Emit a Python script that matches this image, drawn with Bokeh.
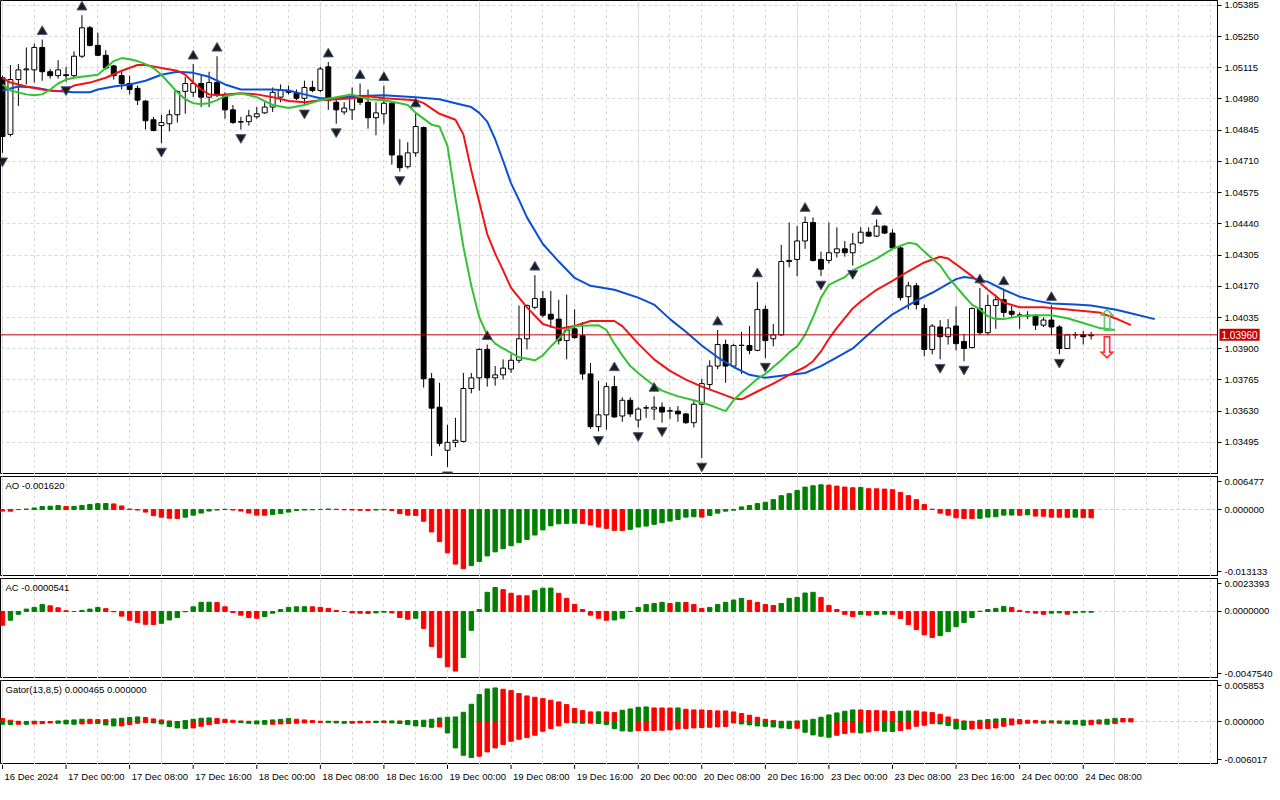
from bokeh.plotting import figure
from bokeh.layouts import column
from bokeh.models import FixedTicker, NumeralTickFormatter, Span, Label, Range1d, Grid
from bokeh.embed import file_html
from bokeh.resources import INLINE
from bokeh.core.properties import value

# ---------------- data (EURUSD H1, 16 Dec 16:00 .. 24 Dec 09:00) ----------------
opens = [
1.05072, 1.04827, 1.05064, 1.05106, 1.05106, 1.05203, 1.05098, 1.05081, 1.05085, 1.05081,
1.05165, 1.05288, 1.05212, 1.05169, 1.05123, 1.05081, 1.05047, 1.05026, 1.04971, 1.04890,
1.04865, 1.04873, 1.04912, 1.05013, 1.05009, 1.05047, 1.04988, 1.05051, 1.04996, 1.04933,
1.04882, 1.04882, 1.04903, 1.04920, 1.04945, 1.04988, 1.05017, 1.05005, 1.04983, 1.05030,
1.05017, 1.05119, 1.04966, 1.04924, 1.04933, 1.04988, 1.04966, 1.04899, 1.04916, 1.04962,
1.04734, 1.04687, 1.04747, 1.04857, 1.03770, 1.03647, 1.03461, 1.03495, 1.03499, 1.03728,
1.03774, 1.03897, 1.03774, 1.03787, 1.03812, 1.03850, 1.03943, 1.04079, 1.04117, 1.04049,
1.04028, 1.03935, 1.03986, 1.03956, 1.03791, 1.03563, 1.03614, 1.03736, 1.03609, 1.03677,
1.03592, 1.03643, 1.03639, 1.03647, 1.03630, 1.03630, 1.03618, 1.03580, 1.03660, 1.03745,
1.03825, 1.03918, 1.03825, 1.03914, 1.03914, 1.03893, 1.04070, 1.03943, 1.03960, 1.04277,
1.04286, 1.04366, 1.04446, 1.04286, 1.04282, 1.04315, 1.04332, 1.04315, 1.04358, 1.04404,
1.04387, 1.04430, 1.04400, 1.04336, 1.04125, 1.04172, 1.04074, 1.03897, 1.03994, 1.03952,
1.03998, 1.03931, 1.03905, 1.04074, 1.03969, 1.04087, 1.04112, 1.04062, 1.04045, 1.04045,
1.04041, 1.04002, 1.04024, 1.03994, 1.03901, 1.03960, 1.03960, 1.03956]
highs = [
1.05081, 1.05127, 1.05131, 1.05203, 1.05220, 1.05237, 1.05110, 1.05148, 1.05119, 1.05186,
1.05343, 1.05296, 1.05267, 1.05191, 1.05127, 1.05102, 1.05081, 1.05038, 1.04975, 1.04903,
1.04912, 1.04933, 1.05017, 1.05076, 1.05131, 1.05085, 1.05098, 1.05165, 1.05009, 1.04954,
1.04903, 1.04933, 1.04945, 1.04966, 1.05030, 1.05043, 1.05038, 1.05021, 1.05059, 1.05059,
1.05119, 1.05140, 1.04979, 1.04966, 1.05030, 1.05047, 1.05021, 1.04966, 1.05038, 1.04966,
1.04806, 1.04793, 1.04924, 1.04861, 1.03795, 1.03753, 1.03571, 1.03601, 1.03795, 1.03795,
1.03901, 1.03918, 1.03825, 1.03854, 1.03876, 1.04087, 1.04091, 1.04218, 1.04150, 1.04150,
1.04112, 1.04134, 1.04070, 1.04015, 1.03838, 1.03762, 1.03753, 1.03783, 1.03690, 1.03690,
1.03647, 1.03656, 1.03694, 1.03668, 1.03647, 1.03652, 1.03622, 1.03673, 1.03770, 1.03850,
1.03981, 1.03939, 1.03922, 1.03973, 1.03998, 1.04189, 1.04087, 1.04007, 1.04349, 1.04446,
1.04430, 1.04472, 1.04468, 1.04320, 1.04446, 1.04425, 1.04366, 1.04400, 1.04425, 1.04425,
1.04459, 1.04434, 1.04417, 1.04345, 1.04189, 1.04184, 1.04091, 1.04007, 1.04024, 1.04028,
1.04083, 1.03964, 1.04079, 1.04163, 1.04134, 1.04134, 1.04155, 1.04087, 1.04057, 1.04062,
1.04049, 1.04036, 1.04087, 1.04002, 1.03964, 1.03973, 1.03977, 1.03973]
lows = [
1.04747, 1.04818, 1.04950, 1.05043, 1.05051, 1.05059, 1.05068, 1.05068, 1.05055, 1.05072,
1.05157, 1.05207, 1.05165, 1.05106, 1.05064, 1.05021, 1.05000, 1.04954, 1.04848, 1.04840,
1.04789, 1.04840, 1.04878, 1.04916, 1.04988, 1.04945, 1.04945, 1.04988, 1.04895, 1.04873,
1.04848, 1.04865, 1.04895, 1.04916, 1.04924, 1.04966, 1.05000, 1.04975, 1.04954, 1.05009,
1.05009, 1.04933, 1.04873, 1.04912, 1.04890, 1.04954, 1.04852, 1.04823, 1.04873, 1.04696,
1.04666, 1.04679, 1.04730, 1.03732, 1.03436, 1.03478, 1.03389, 1.03474, 1.03495, 1.03707,
1.03719, 1.03736, 1.03740, 1.03766, 1.03795, 1.03838, 1.03897, 1.04070, 1.04036, 1.03990,
1.03918, 1.03854, 1.03943, 1.03766, 1.03554, 1.03542, 1.03550, 1.03601, 1.03584, 1.03605,
1.03559, 1.03601, 1.03592, 1.03580, 1.03597, 1.03584, 1.03575, 1.03559, 1.03427, 1.03723,
1.03812, 1.03753, 1.03816, 1.03791, 1.03876, 1.03889, 1.03859, 1.03910, 1.03956, 1.04252,
1.04214, 1.04332, 1.04277, 1.04214, 1.04269, 1.04294, 1.04298, 1.04260, 1.04353, 1.04383,
1.04383, 1.04396, 1.04332, 1.04108, 1.04070, 1.04070, 1.03867, 1.03876, 1.03854, 1.03918,
1.03893, 1.03846, 1.03901, 1.03960, 1.03960, 1.03986, 1.04036, 1.04036, 1.03986, 1.04028,
1.03981, 1.03994, 1.03960, 1.03876, 1.03899, 1.03943, 1.03918, 1.03939]
closes = [
1.04818, 1.05064, 1.05106, 1.05110, 1.05203, 1.05098, 1.05081, 1.05106, 1.05081, 1.05165,
1.05288, 1.05212, 1.05169, 1.05114, 1.05081, 1.05047, 1.05021, 1.04975, 1.04886, 1.04844,
1.04878, 1.04912, 1.05013, 1.05047, 1.05047, 1.04988, 1.05051, 1.05000, 1.04933, 1.04878,
1.04880, 1.04907, 1.04916, 1.04945, 1.05009, 1.05017, 1.05009, 1.04983, 1.05030, 1.05017,
1.05110, 1.04975, 1.04933, 1.04941, 1.04988, 1.04966, 1.04899, 1.04920, 1.04962, 1.04738,
1.04683, 1.04747, 1.04861, 1.03770, 1.03643, 1.03491, 1.03495, 1.03504, 1.03728, 1.03774,
1.03897, 1.03774, 1.03787, 1.03816, 1.03850, 1.03943, 1.04087, 1.04117, 1.04045, 1.04028,
1.03935, 1.03981, 1.03948, 1.03791, 1.03563, 1.03614, 1.03736, 1.03605, 1.03677, 1.03618,
1.03639, 1.03645, 1.03647, 1.03626, 1.03632, 1.03618, 1.03580, 1.03660, 1.03749, 1.03825,
1.03918, 1.03825, 1.03914, 1.03915, 1.03893, 1.04070, 1.03935, 1.03960, 1.04277, 1.04282,
1.04366, 1.04446, 1.04282, 1.04244, 1.04315, 1.04332, 1.04315, 1.04353, 1.04404, 1.04387,
1.04430, 1.04400, 1.04336, 1.04121, 1.04172, 1.04091, 1.03897, 1.03998, 1.03952, 1.03990,
1.03922, 1.03901, 1.04074, 1.03969, 1.04087, 1.04112, 1.04057, 1.04049, 1.04046, 1.04041,
1.04002, 1.04024, 1.03994, 1.03901, 1.03960, 1.03961, 1.03952, 1.03960]

# Alligator lines (bar index, value) - jaw (blue), teeth (red), lips (green)
jaw_x = [0, 2, 4, 6, 9, 11, 12, 14, 16, 18, 20, 22, 24, 26, 28, 30, 34, 36, 38, 40,
         42, 44, 48, 52, 55, 57, 59, 60, 61, 62, 63, 64, 65, 66, 68, 70, 72, 74, 77, 80,
         82, 84, 86, 88, 90, 92, 94, 96, 98, 101, 103, 105, 107, 110, 112, 115, 117, 120, 121, 122,
         124, 126, 128, 130, 132, 135, 137, 140, 142, 145]
jaw_y = [1.05017, 1.05034, 1.05030, 1.05017, 1.05009, 1.05009, 1.05021, 1.05034, 1.05043, 1.05059,
         1.05085, 1.05098, 1.05093, 1.05076, 1.05043, 1.05021, 1.05021, 1.05017, 1.05000, 1.04983,
         1.04983, 1.04992, 1.04996, 1.04988, 1.04979, 1.04962, 1.04945, 1.04920, 1.04882, 1.04806,
         1.04713, 1.04615, 1.04544, 1.04468, 1.04353, 1.04277, 1.04206, 1.04172, 1.04155, 1.04121,
         1.04091, 1.04028, 1.03973, 1.03914, 1.03863, 1.03821, 1.03787, 1.03774, 1.03783, 1.03795,
         1.03825, 1.03863, 1.03901, 1.03994, 1.04049, 1.04108, 1.04142, 1.04201, 1.04210, 1.04206,
         1.04189, 1.04155, 1.04125, 1.04108, 1.04096, 1.04091, 1.04087, 1.04070, 1.04053, 1.04028]
teeth_x = [0, 1, 3, 5, 7, 8, 9, 11, 13, 15, 17, 18, 20, 22, 23, 24, 25, 26, 27, 30,
           32, 34, 36, 38, 40, 44, 46, 48, 50, 52, 53, 55, 57, 58, 59, 60, 61, 62, 63, 64,
           66, 68, 70, 72, 74, 77, 78, 80, 82, 84, 86, 88, 90, 92, 93, 95, 97, 99, 101, 102,
           103, 104, 105, 106, 107, 108, 110, 112, 114, 116, 118, 119, 120, 122, 124, 126, 128, 131, 135, 138,
           140, 142]
teeth_y = [1.05072, 1.05051, 1.05034, 1.05021, 1.05013, 1.05021, 1.05038, 1.05051, 1.05072, 1.05102,
           1.05127, 1.05127, 1.05114, 1.05102, 1.05085, 1.05051, 1.05021, 1.05000, 1.04996, 1.05005,
           1.05000, 1.04988, 1.04971, 1.04966, 1.04975, 1.04983, 1.04992, 1.04983, 1.04979, 1.04975,
           1.04962, 1.04916, 1.04890, 1.04827, 1.04671, 1.04535, 1.04396, 1.04311, 1.04239, 1.04163,
           1.04079, 1.04007, 1.03986, 1.03998, 1.04020, 1.04020, 1.03998, 1.03922, 1.03854, 1.03804,
           1.03766, 1.03736, 1.03711, 1.03685, 1.03681, 1.03715, 1.03749, 1.03787, 1.03821, 1.03846,
           1.03888, 1.03943, 1.03990, 1.04032, 1.04074, 1.04104, 1.04155, 1.04193, 1.04235, 1.04273,
           1.04298, 1.04290, 1.04265, 1.04214, 1.04155, 1.04100, 1.04079, 1.04079, 1.04066, 1.04057,
           1.04032, 1.04002]
lips_x = [0, 1, 3, 4, 5, 6, 7, 8, 9, 11, 12, 13, 14, 15, 16, 17, 18, 19, 20, 21,
          22, 23, 24, 25, 26, 27, 28, 30, 32, 34, 36, 38, 40, 42, 44, 45, 46, 48, 50, 51,
          52, 53, 54, 55, 56, 57, 58, 59, 60, 61, 62, 63, 65, 67, 68, 69, 70, 71, 72, 75,
          76, 77, 78, 79, 80, 82, 83, 85, 87, 89, 91, 92, 93, 94, 95, 96, 97, 98, 99, 100,
          101, 102, 103, 104, 105, 106, 107, 110, 112, 114, 115, 116, 118, 119, 121, 122, 123, 124, 125, 126,
          128, 130, 132, 134, 136, 138, 140]
lips_y = [1.05043, 1.05017, 1.05000, 1.04996, 1.05000, 1.05021, 1.05047, 1.05064, 1.05072, 1.05081,
          1.05085, 1.05114, 1.05144, 1.05157, 1.05152, 1.05144, 1.05131, 1.05114, 1.05085, 1.05047,
          1.05009, 1.04979, 1.04962, 1.04958, 1.04962, 1.04975, 1.04992, 1.05005, 1.04988, 1.04954,
          1.04941, 1.04954, 1.04975, 1.04988, 1.05000, 1.04988, 1.04979, 1.04975, 1.04962, 1.04954,
          1.04920, 1.04895, 1.04869, 1.04861, 1.04776, 1.04552, 1.04341, 1.04172, 1.04036, 1.03960,
          1.03922, 1.03901, 1.03863, 1.03850, 1.03871, 1.03910, 1.03943, 1.03981, 1.03998, 1.04002,
          1.03981, 1.03922, 1.03871, 1.03825, 1.03795, 1.03740, 1.03719, 1.03694, 1.03677, 1.03656,
          1.03630, 1.03677, 1.03711, 1.03740, 1.03770, 1.03791, 1.03821, 1.03850, 1.03884, 1.03910,
          1.03960, 1.04036, 1.04121, 1.04176, 1.04193, 1.04210, 1.04239, 1.04290, 1.04332, 1.04358,
          1.04353, 1.04320, 1.04260, 1.04210, 1.04129, 1.04091, 1.04070, 1.04041, 1.04028, 1.04028,
          1.04041, 1.04045, 1.04045, 1.04032, 1.04011, 1.03990, 1.03981]

# Fractals (bar indices)
fractal_up = [5, 10, 24, 27, 41, 45, 48, 52, 61, 67, 77, 82, 90, 95, 101, 110, 123, 126, 132]
fractal_down = [0, 8, 20, 30, 38, 42, 50, 56, 75, 80, 83, 88, 96, 103, 107, 118, 121, 133]

# Signal arrows at the right edge
signal_x = [139, 139]
signal_y = [1.04023, 1.03904]
signal_txt = ["\u21e7", "\u21e9"]

# Awesome Oscillator
ao_vals = [
-0.00030, -0.00032, 0.00000, 0.00010, 0.00030, 0.00058, 0.00065, 0.00080, 0.00060, 0.00062,
0.00080, 0.00100, 0.00116, 0.00118, 0.00110, 0.00070, 0.00010, -0.00010, -0.00050, -0.00120,
-0.00150, -0.00170, -0.00175, -0.00150, -0.00110, -0.00070, -0.00030, -0.00010, 0.00005, -0.00010,
-0.00030, -0.00070, -0.00110, -0.00112, -0.00100, -0.00080, -0.00050, -0.00020, -0.00010, -0.00005,
0.00002, 0.00010, 0.00005, -0.00005, -0.00010, -0.00015, -0.00020, -0.00010, -0.00005, -0.00020,
-0.00080, -0.00110, -0.00115, -0.00230, -0.00440, -0.00630, -0.00850, -0.01070, -0.01160, -0.01100,
-0.01020, -0.00910, -0.00830, -0.00770, -0.00710, -0.00650, -0.00590, -0.00500, -0.00400, -0.00320,
-0.00280, -0.00272, -0.00268, -0.00275, -0.00304, -0.00343, -0.00369, -0.00408, -0.00410, -0.00388,
-0.00343, -0.00324, -0.00291, -0.00259, -0.00226, -0.00194, -0.00149, -0.00142, -0.00149, -0.00116,
-0.00071, -0.00032, -0.00013, 0.00052, 0.00078, 0.00116, 0.00142, 0.00194, 0.00272, 0.00311,
0.00375, 0.00440, 0.00466, 0.00485, 0.00479, 0.00459, 0.00440, 0.00427, 0.00434, 0.00408,
0.00406, 0.00401, 0.00388, 0.00336, 0.00272, 0.00194, 0.00097, 0.00006, -0.00071, -0.00110,
-0.00162, -0.00175, -0.00177, -0.00172, -0.00149, -0.00142, -0.00110, -0.00108, -0.00112, -0.00104,
-0.00129, -0.00131, -0.00149, -0.00151, -0.00153, -0.00149, -0.00158, -0.00162]
ao_state = ("rrggggggrg" "ggggrrrrrr" "rrrggggggr" "rrrrgggggg" "ggrrrrrggr"
            "rrrrrrrrrg" "gggggggggg" "gggrrrrrrg" "ggggggggrg" "gggggggggg"
            "ggggrrrrgr" "rrrrrrrrrr" "rrrgggggrg" "rrrrrgrr")

# Accelerator Oscillator
ac_vals = [
-0.00098, -0.00062, -0.00020, 0.00017, 0.00029, 0.00050, 0.00040, 0.00026, 0.00005, 0.00000,
0.00007, 0.00017, 0.00029, 0.00020, -0.00002, -0.00033, -0.00062, -0.00079, -0.00091, -0.00092,
-0.00084, -0.00060, -0.00043, -0.00002, 0.00033, 0.00065, 0.00066, 0.00064, 0.00033, -0.00007,
-0.00026, -0.00043, -0.00048, -0.00036, -0.00012, 0.00014, 0.00029, 0.00033, 0.00034, 0.00033,
0.00029, 0.00022, 0.00007, 0.00000, -0.00010, -0.00012, -0.00014, -0.00010, -0.00005, -0.00010,
-0.00043, -0.00055, -0.00048, -0.00120, -0.00249, -0.00327, -0.00392, -0.00423, -0.00327, -0.00134,
0.00014, 0.00136, 0.00170, 0.00155, 0.00129, 0.00112, 0.00111, 0.00148, 0.00165, 0.00166,
0.00129, 0.00093, 0.00050, 0.00014, -0.00026, -0.00048, -0.00062, -0.00060, -0.00048, 0.00000,
0.00029, 0.00050, 0.00057, 0.00065, 0.00057, 0.00065, 0.00064, 0.00050, 0.00022, 0.00029,
0.00050, 0.00065, 0.00081, 0.00093, 0.00079, 0.00065, 0.00050, 0.00043, 0.00057, 0.00093,
0.00100, 0.00131, 0.00136, 0.00100, 0.00043, 0.00014, -0.00020, -0.00036, -0.00020, -0.00026,
-0.00020, -0.00019, -0.00020, -0.00050, -0.00093, -0.00129, -0.00165, -0.00184, -0.00172, -0.00143,
-0.00108, -0.00079, -0.00043, 0.00002, 0.00014, 0.00022, 0.00036, 0.00029, 0.00007, -0.00005,
-0.00012, -0.00020, -0.00012, -0.00010, -0.00019, -0.00010, -0.00005, -0.0000541]
ac_state = ("rgggggrrrr" "gggrrrrrrr" "gggggggrrr" "rrrggggggr" "rrrrrrrggr"
            "rrgrrrrrgg" "gggrrrrggg" "rrrrrrrggg" "ggggrgrrrg" "ggggrrrrgg"
            "gggrrrrrgr" "ggrrrrrrgg" "gggggggrrr" "rrggrggg")

# Gator Oscillator (upper = |jaw-teeth|, lower = -|teeth-lips|)
gator_up = [
0.000471, 0.000236, 0.000094, 0.000047, 0.000094, 0.000047, 0.000047, 0.000141, 0.000236, 0.000283,
0.000377, 0.000370, 0.000330, 0.000320, 0.000424, 0.000518, 0.000612, 0.000707, 0.000612, 0.000424,
0.000283, 0.000141, 0.000047, 0.000188, 0.000377, 0.000518, 0.000565, 0.000471, 0.000377, 0.000236,
0.000141, 0.000094, 0.000141, 0.000188, 0.000283, 0.000377, 0.000471, 0.000377, 0.000283, 0.000188,
0.000094, 0.000100, 0.000090, 0.000047, 0.000050, 0.000094, 0.000090, 0.000100, 0.000141, 0.000145,
0.000140, 0.000188, 0.000195, 0.000236, 0.000377, 0.000565, 0.000659, 0.000707, 0.001366, 0.002496,
0.003862, 0.004663, 0.004804, 0.004616, 0.004427, 0.004004, 0.003674, 0.003485, 0.003297, 0.003062,
0.002826, 0.002449, 0.001884, 0.001601, 0.001413, 0.001420, 0.001410, 0.001319, 0.001649, 0.001837,
0.002072, 0.002120, 0.001978, 0.001970, 0.001960, 0.001978, 0.001790, 0.001696, 0.001690, 0.001601,
0.001554, 0.001550, 0.001413, 0.001178, 0.000942, 0.000659, 0.000377, 0.000188, 0.000094, 0.000100,
0.000141, 0.000236, 0.000377, 0.000659, 0.000989, 0.001272, 0.001507, 0.001696, 0.001690, 0.001601,
0.001595, 0.001554, 0.001460, 0.001507, 0.001554, 0.001550, 0.001413, 0.001319, 0.001083, 0.000707,
0.000377, 0.000141, 0.000094, 0.000236, 0.000330, 0.000424, 0.000471, 0.000424, 0.000330, 0.000236,
0.000188, 0.000141, 0.000150, 0.000140, 0.000145, 0.000188, 0.000236, 0.000230, 0.000283, 0.000377,
0.000500, 0.000480, 0.000465]
gator_up_state = ("rrrrgrrggg" "grrrggggrr" "rrrggggrrr" "rrgggggrrr" "rgrrggrggg"
                  "rggggggggg" "gggrrrrrrr" "rrrrrgrrgg" "ggrrrgrrrr" "rrrrrrrrrg"
                  "ggggggggrr" "rrrggrrrrr" "rrrggggrrr" "rrgrgggrgg" "grr")
gator_dn = [
0.000330, 0.000377, 0.000330, 0.000335, 0.000283, 0.000236, 0.000141, 0.000188, 0.000283, 0.000330,
0.000283, 0.000236, 0.000240, 0.000424, 0.000565, 0.000560, 0.000377, 0.000188, 0.000094, 0.000141,
0.000283, 0.000659, 0.000848, 0.000942, 0.000848, 0.000612, 0.000377, 0.000236, 0.000094, 0.000047,
0.000094, 0.000188, 0.000283, 0.000330, 0.000325, 0.000283, 0.000236, 0.000188, 0.000141, 0.000094,
0.000047, 0.000094, 0.000141, 0.000188, 0.000180, 0.000141, 0.000094, 0.000100, 0.000090, 0.000141,
0.000236, 0.000377, 0.000565, 0.000659, 0.000754, 0.000707, 0.001554, 0.003674, 0.004710, 0.005040,
0.004851, 0.004239, 0.003674, 0.003203, 0.002732, 0.002449, 0.002214, 0.001884, 0.001319, 0.000942,
0.000565, 0.000094, 0.000141, 0.000188, 0.000180, 0.000236, 0.000377, 0.000942, 0.001272, 0.001319,
0.001225, 0.001220, 0.001215, 0.001178, 0.001130, 0.000989, 0.000942, 0.000848, 0.000801, 0.000754,
0.000707, 0.000659, 0.000141, 0.000283, 0.000424, 0.000565, 0.000612, 0.000707, 0.000848, 0.000942,
0.000895, 0.001460, 0.001837, 0.002025, 0.002167, 0.001884, 0.001649, 0.001460, 0.001554, 0.001413,
0.001225, 0.001319, 0.001366, 0.001225, 0.000989, 0.000612, 0.000471, 0.000236, 0.000283, 0.000518,
0.000989, 0.001083, 0.000989, 0.000942, 0.000935, 0.000848, 0.000612, 0.000424, 0.000283, 0.000188,
0.000141, 0.000188, 0.000141, 0.000188, 0.000283, 0.000330, 0.000471, 0.000377, 0.000283, 0.000330,
0.000236]
gator_dn_state = ("ggrgrrrggg" "rrgggrrrrg" "ggggrrrrrr" "ggggrrrrrr" "rgggrrrgrg"
                  "gggggrgggg" "rrrrrrrrrr" "rrggrggggg" "rrrrrrrrrr" "rrrggggggg"
                  "rggggrrrgr" "rggrrrrrgg" "ggrrrrrrrr" "rgrggggrrg" "r")

# Axis labels
price_ticks = [1.05385, 1.05250, 1.05115, 1.04980, 1.04845, 1.04710, 1.04575, 1.04440,
               1.04305, 1.04170, 1.04035, 1.03900, 1.03765, 1.03630, 1.03495]
time_tick_idx = [0, 8, 16, 24, 32, 40, 48, 56, 64, 72, 80, 88, 96, 104, 112, 120, 128, 136]
time_tick_lbl = ["16 Dec 2024", "17 Dec 00:00", "17 Dec 08:00", "17 Dec 16:00", "18 Dec 00:00",
                 "18 Dec 08:00", "18 Dec 16:00", "19 Dec 00:00", "19 Dec 08:00", "19 Dec 16:00",
                 "20 Dec 00:00", "20 Dec 08:00", "20 Dec 16:00", "23 Dec 00:00", "23 Dec 08:00",
                 "23 Dec 16:00", "24 Dec 00:00", "24 Dec 08:00"]
ao_range = (-0.013133, 0.006477)
ac_range = (-0.0047540, 0.0023393)
gator_range = (-0.006017, 0.005853)

# ---------------- styling ----------------
FONT = "Liberation Sans"
FS = "9.5px"
GREEN_H = "#008000"
RED_H = "#ff0000"
JAW_C = "#0a50d6"
TEETH_C = "#f21414"
LIPS_C = "#33c233"
GRID_C = "#d6d6d6"
FRAME_W = 1217
RIGHT_B = 54

xr = Range1d(-0.25, 152.9)
idx = list(range(len(opens)))
vgrid = FixedTicker(ticks=list(range(0, 153, 4)))


def base_fig(frame_h, y_range, top_border):
    f = figure(frame_width=FRAME_W, frame_height=frame_h, x_range=xr, y_range=Range1d(*y_range),
               output_backend="svg", toolbar_location=None, x_axis_location=None,
               y_axis_location="right", min_border=0, min_border_left=0, min_border_top=top_border,
               min_border_bottom=0, min_border_right=RIGHT_B, background_fill_color="white",
               border_fill_color="white", outline_line_color="black", outline_line_width=1)
    ax = f.yaxis[0]
    ax.axis_line_color = "black"
    ax.major_tick_line_color = "black"
    ax.major_tick_out = 4
    ax.major_tick_in = 0
    ax.minor_tick_line_color = None
    ax.major_label_standoff = 3
    ax.major_label_text_font = FONT
    ax.major_label_text_font_size = FS
    ax.major_label_text_color = "black"
    f.ygrid.grid_line_color = GRID_C
    f.ygrid.grid_line_dash = "3 3"
    f.add_layout(Grid(dimension=0, ticker=vgrid, grid_line_color=GRID_C, grid_line_dash="3 3"))
    return f


# ---------------- main price chart ----------------
main = base_fig(474, (1.03356, 1.05406), 0)
main.yaxis[0].ticker = FixedTicker(ticks=price_ticks)
main.yaxis[0].formatter = NumeralTickFormatter(format="0.00000")

bull = [i for i in idx if closes[i] >= opens[i]]
bear = [i for i in idx if closes[i] < opens[i]]
main.segment(x0=idx, y0=lows, x1=idx, y1=highs, line_color="black", line_width=1)
main.vbar(x=bull, top=[closes[i] for i in bull], bottom=[opens[i] for i in bull], width=0.62,
          fill_color="white", line_color="black", line_width=1)
main.vbar(x=bear, top=[opens[i] for i in bear], bottom=[closes[i] for i in bear], width=0.62,
          fill_color="black", line_color="black", line_width=1)

main.line(jaw_x, jaw_y, line_color=JAW_C, line_width=2)
main.line(teeth_x, teeth_y, line_color=TEETH_C, line_width=2)
main.line(lips_x, lips_y, line_color=LIPS_C, line_width=2)

gap = 8 * (1.05406 - 1.03356) / 474  # ~8 px gap between extreme and fractal arrow
main.scatter(x=fractal_up, y=[highs[i] + gap for i in fractal_up], marker="triangle", size=10,
             fill_color="#1c1c1c", line_color="#4a5a78", line_width=1)
main.scatter(x=fractal_down, y=[lows[i] - gap for i in fractal_down], marker="inverted_triangle",
             size=10, fill_color="#1c1c1c", line_color="#4a5a78", line_width=1)

main.text(x=signal_x, y=signal_y, text=signal_txt, text_color=["#5cc85c", "#ff2a2a"],
          text_font=value("DejaVu Sans"), text_font_size="30px", text_align="center",
          text_baseline="middle")

main.add_layout(Span(location=closes[-1], dimension="width", line_color="#c00000", line_width=1))
# current-price box on the price scale (side panel so it is not clipped to the frame)
main.add_layout(Label(x=xr.end, y=closes[-1], x_offset=2, text=f"{closes[-1]:.5f}",
                      text_align="left", text_baseline="middle", text_color="white",
                      text_font=FONT, text_font_size="10px", background_fill_color="#c80000",
                      padding=2),
                "right")


# ---------------- indicator panels ----------------
def indicator(frame_h, rng, digits, title):
    f = base_fig(frame_h, rng, 2)
    lo, hi = rng
    pad = 5.0 * (hi - lo) / frame_h
    t_hi, t_lo = hi - pad, lo + pad
    f.yaxis[0].ticker = FixedTicker(ticks=[t_lo, 0.0, t_hi])
    f.yaxis[0].major_label_overrides = {t_hi: f"{hi:.{digits}f}", 0.0: f"{0:.{digits}f}",
                                        t_lo: f"{lo:.{digits}f}"}
    f.ygrid.ticker = FixedTicker(ticks=[0.0])
    f.ygrid.grid_line_color = "#c8c8c8"
    f.add_layout(Label(x=xr.start, y=hi - 3.0 * (hi - lo) / frame_h, x_offset=5, text=title,
                       text_align="left", text_baseline="top", text_color="black",
                       text_font=FONT, text_font_size=FS))
    return f


def cols(states):
    return [GREEN_H if s == "g" else RED_H for s in states]


ao = indicator(100, ao_range, 6, f"AO {ao_vals[-1]:.6f}")
ao.vbar(x=idx, top=ao_vals, bottom=0, width=0.55, color=cols(ao_state))

ac = indicator(100, ac_range, 7, f"AC {ac_vals[-1]:.7f}")
ac.vbar(x=idx, top=ac_vals, bottom=0, width=0.55, color=cols(ac_state))

gt = indicator(84, gator_range, 6, f"Gator(13,8,5) {gator_up[-1]:.6f} 0.000000")
gt.vbar(x=list(range(len(gator_up))), top=gator_up, bottom=0, width=0.55, color=cols(gator_up_state))
gt.vbar(x=list(range(len(gator_dn))), top=0, bottom=[-v for v in gator_dn], width=0.55,
        color=cols(gator_dn_state))

# ---------------- time axis strip ----------------
strip = figure(frame_width=FRAME_W, frame_height=20, x_range=xr, y_range=Range1d(0, 1),
               output_backend="svg", toolbar_location=None, x_axis_location=None,
               y_axis_location=None, min_border=0, min_border_left=0, min_border_top=0,
               min_border_bottom=0, min_border_right=RIGHT_B, outline_line_color=None,
               background_fill_color="white", border_fill_color="white")
strip.xgrid.visible = False
strip.ygrid.visible = False
strip.segment(x0=time_tick_idx, y0=[1.0] * len(time_tick_idx), x1=time_tick_idx,
              y1=[0.78] * len(time_tick_idx), line_color="black", line_width=1)
strip.text(x=time_tick_idx, y=[0.42] * len(time_tick_idx), text=time_tick_lbl, x_offset=2,
           text_align="left", text_baseline="middle", text_font=value(FONT),
           text_font_size=FS, text_color="black")

layout = column(main, ao, ac, gt, strip, spacing=0)
open("out.html", "w").write(file_html(layout, INLINE))
